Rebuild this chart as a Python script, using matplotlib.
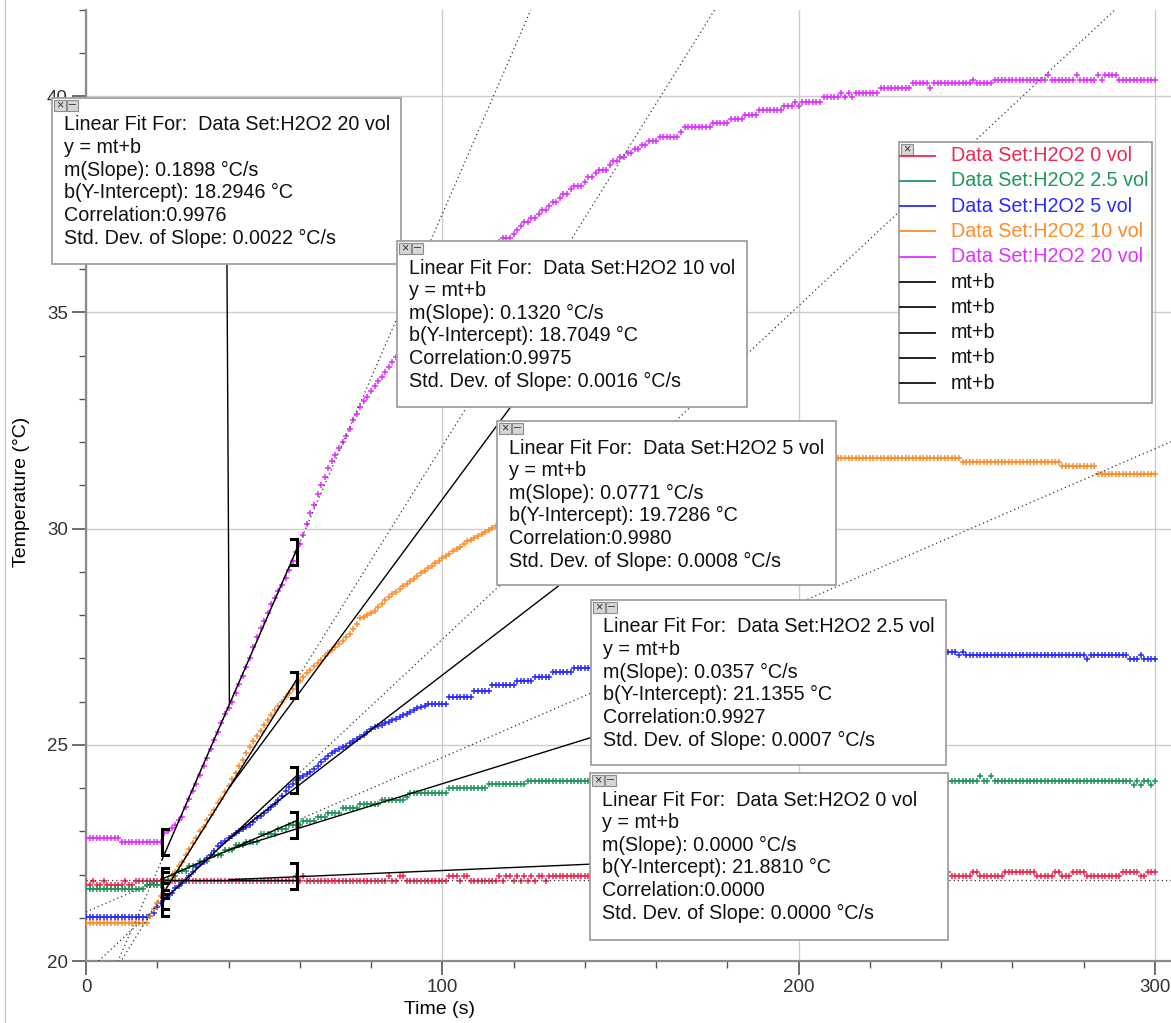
import numpy as np
import matplotlib
matplotlib.use('Agg')
import matplotlib.pyplot as plt
from matplotlib.patches import Rectangle
from matplotlib.ticker import MultipleLocator

plt.rcParams['font.family'] = ['Liberation Sans', 'DejaVu Sans']

# ---------------- data (temperature in °C, one reading per second) ----------------
time_s = np.arange(301)

temp_0vol = ([21.76, 21.76, 21.85, 21.76, 21.76, 21.85, 21.76, 21.76, 21.76, 21.76, 21.76, 21.85, 21.76, 21.76]
             + [21.85] * 45 + [21.96, 21.85, 21.96] + [21.85] * 23
             + [21.96, 21.85, 21.85, 21.96, 21.96] + [21.85] * 12
             + [21.96] * 3 + [21.85] + [21.96] * 2 + [21.85] * 8
             + [21.96, 21.85, 21.96, 21.96, 21.85, 21.96, 21.85, 21.96, 21.85, 21.96, 21.85, 21.96, 21.96, 21.85]
             + [21.96] * 11 + [21.96] * 96
             + [21.96] + [22.05] * 5 + [21.96] * 6 + [22.05] * 2 + [21.96] * 7 + [22.05] * 9
             + [21.96] * 5 + [22.05] * 2 + [21.96] * 3 + [22.05] * 4 + [21.96] * 10 + [22.05] * 5
             + [21.96] * 2 + [22.05] * 3)

temp_2p5vol = ([21.66] * 17 + [21.76] * 5 + [21.87] * 2 + [21.97] * 2 + [22.08] * 3 + [22.2] * 3
               + [22.31] * 3 + [22.45] * 4 + [22.57] * 3 + [22.68] * 3 + [22.75] * 4 + [22.93] * 5
               + [23.05] * 3 + [23.14] * 4 + [23.24] * 4 + [23.33] * 3 + [23.42] * 4 + [23.54] * 5
               + [23.63] * 6 + [23.72] * 7 + [23.8] + [23.88] * 11 + [24.0] * 11 + [24.09] * 11
               + [24.16] * 113
               + [24.16] * 4 + [24.28] + [24.16] * 9 + [24.28] + [24.16] * 2 + [24.28] + [24.16] * 39
               + [24.06, 24.16, 24.06, 24.16, 24.16, 24.06, 24.16])

temp_5vol = ([21.02] * 18
             + [21.05, 21.1, 21.25, 21.35, 21.43, 21.5, 21.58, 21.68, 21.74, 21.8,
                21.88, 21.96, 22.05, 22.17, 22.24, 22.3, 22.38, 22.45, 22.55, 22.65,
                22.72, 22.78, 22.85, 22.9, 22.95, 23.0, 23.05, 23.1, 23.15, 23.22,
                23.3, 23.36, 23.42, 23.5, 23.56, 23.64, 23.72, 23.82, 23.92, 24.02,
                24.1, 24.18]
             + [24.22, 24.27, 24.32, 24.38, 24.45, 24.52, 24.6, 24.68, 24.74, 24.8,
                24.85, 24.9, 24.94, 24.98, 25.03, 25.08, 25.13, 25.18, 25.23, 25.3,
                25.36, 25.4, 25.43, 25.46, 25.5, 25.53, 25.57, 25.6, 25.64, 25.68,
                25.72, 25.76, 25.8, 25.84, 25.87, 25.9]
             + [25.94] * 6 + [26.1] * 7 + [26.24] * 5 + [26.38] * 7 + [26.48] * 5 + [26.57] * 5
             + [26.68] * 6 + [26.77] * 6
             + [26.86] * 18 + [26.96] * 40 + [27.07] * 40
             + [27.15] * 4 + [27.07, 27.15] + [27.07] * 34 + [26.98] + [27.07] * 11 + [26.98] * 3
             + [27.07] + [26.98] * 4)

temp_10vol = ([20.89] * 18
              + [21.05, 21.2, 21.35, 21.5, 21.65, 21.8, 21.9, 22.05, 22.2, 22.3,
                 22.45, 22.6, 22.72, 22.85, 23.0, 23.1, 23.25, 23.38, 23.5, 23.65,
                 23.75, 23.9, 24.05, 24.2, 24.35, 24.5, 24.65, 24.8, 24.95, 25.08,
                 25.2, 25.32, 25.45, 25.57, 25.68, 25.8, 25.9, 26.0, 26.1, 26.2,
                 26.3, 26.38]
              + [26.48, 26.56, 26.65, 26.73, 26.81, 26.89, 26.97, 27.05, 27.13, 27.2,
                 27.27, 27.34, 27.41, 27.48, 27.55, 27.68, 27.8, 27.92, 27.96, 28.0,
                 28.05, 28.1, 28.18, 28.26, 28.34, 28.42, 28.48, 28.54, 28.6, 28.66,
                 28.72, 28.78, 28.84, 28.9, 28.96, 29.02, 29.08, 29.14, 29.2, 29.26,
                 29.31, 29.36, 29.42, 29.47, 29.53, 29.58, 29.64, 29.7, 29.74, 29.78,
                 29.82, 29.87, 29.92, 29.97, 30.02, 30.06]
              + [30.15] * 3 + [30.25] * 3 + [30.35] * 3 + [30.45] * 4 + [30.55] * 4 + [30.65] * 5
              + [30.75] * 5 + [30.85] * 6 + [30.95] * 7 + [31.05] * 8 + [31.15] * 9 + [31.25] * 10
              + [31.35] * 11 + [31.45] * 12 + [31.55] * 5
              + [31.63] * 35 + [31.54] * 28 + [31.45] * 10 + [31.27] * 17)

temp_20vol = ([22.85] * 10 + [22.76] * 12
              + [22.96, 23.0, 23.07, 23.15, 23.25, 23.34, 23.55, 23.75, 23.92, 24.1,
                 24.3, 24.5, 24.7, 24.9, 25.1, 25.3, 25.5, 25.7, 25.85, 26.0,
                 26.2, 26.4, 26.6, 26.8, 27.0, 27.25, 27.5, 27.7, 27.85, 28.05,
                 28.25, 28.4, 28.55, 28.7, 28.85, 29.05, 29.25, 29.45, 29.65, 29.85,
                 30.1, 30.35, 30.55, 30.8, 31.0, 31.2, 31.4, 31.55, 31.7, 31.85,
                 32.0, 32.15, 32.3, 32.5, 32.65, 32.8, 32.95, 33.05, 33.17, 33.3,
                 33.4, 33.5, 33.62, 33.74, 33.85, 33.96, 34.07, 34.18, 34.28, 34.38,
                 34.48, 34.58, 34.68, 34.77, 34.86, 34.95, 35.04, 35.13, 35.22, 35.3,
                 35.38, 35.46, 35.55, 35.63, 35.71, 35.79, 35.87, 35.95, 36.1, 36.18,
                 36.26, 36.35, 36.44, 36.53, 36.62]
              + [36.72] * 3 + [36.82, 36.9, 37.0] + [37.09] * 2 + [37.18] * 2 + [37.27] + [37.36] * 2
              + [37.46] + [37.55] * 2 + [37.65] + [37.74] * 2 + [37.84] + [37.93] * 3 + [38.02]
              + [38.12] * 2 + [38.21] + [38.3] * 3 + [38.4] + [38.49] * 2 + [38.58] * 2 + [38.68] * 2
              + [38.77] * 2 + [38.86] * 2 + [38.96] * 3 + [39.05] * 6 + [39.17] + [39.28] * 8
              + [39.37] * 5 + [39.47] * 4 + [39.56] * 4 + [39.67] * 7 + [39.76] * 3 + [39.87, 39.76]
              + [39.87] * 6 + [39.98] * 5 + [40.07, 39.98, 40.07, 39.98] + [40.07] * 7 + [40.18] * 9
              + [40.29] * 5 + [40.18] + [40.29] * 11 + [40.38] + [40.29] * 5 + [40.38] * 15 + [40.48]
              + [40.38] * 7 + [40.48] + [40.38] * 5 + [40.48, 40.38] + [40.48] * 4 + [40.38] * 11)

series_names = ['H2O2 0 vol', 'H2O2 2.5 vol', 'H2O2 5 vol', 'H2O2 10 vol', 'H2O2 20 vol']
series_temps = [temp_0vol, temp_2p5vol, temp_5vol, temp_10vol, temp_20vol]
series_colors = ['#F0284F', '#1E965A', '#2A2AFF', '#FF8C28', '#E030FF']

# linear fits (range 21.3 s .. 59.2 s)
fit_slopes = [0.0000, 0.0357, 0.0771, 0.1320, 0.1898]
fit_intercepts = [21.8810, 21.1355, 19.7286, 18.7049, 18.2946]
fit_correlations = [0.0000, 0.9927, 0.9980, 0.9975, 0.9976]
fit_slope_sd = [0.0000, 0.0007, 0.0008, 0.0016, 0.0022]
fit_range = (21.3, 59.2)

for s in series_temps:
    assert len(s) == 301, len(s)

# ---------------- figure ----------------
W, H = 1171, 1023
fig = plt.figure(figsize=(W / 100, H / 100), dpi=100)
ax = fig.add_axes([86 / W, (H - 961) / H, (W - 86) / W, (961 - 9.5) / H])
ax.set_xlim(0, 304.5)
ax.set_ylim(20, 42)

ax.xaxis.set_major_locator(MultipleLocator(100))
ax.xaxis.set_minor_locator(MultipleLocator(20))
ax.yaxis.set_major_locator(MultipleLocator(5))
ax.yaxis.set_minor_locator(MultipleLocator(1))
ax.grid(which='major', color='#cccccc', lw=1.0)
ax.set_axisbelow(True)
for side in ['top', 'right']:
    ax.spines[side].set_visible(False)
for side in ['left', 'bottom']:
    ax.spines[side].set_color('#8a8a8a')
    ax.spines[side].set_linewidth(1.6)
ax.tick_params(which='major', length=10, width=1.2, color='#555555', labelsize=13.5,
               labelcolor='#333333', pad=3)
ax.tick_params(which='minor', length=5, width=1.0, color='#555555')

# data points
for temps, col in zip(series_temps, series_colors):
    ax.plot(time_s, temps, ls='none', marker='+', ms=4.2, mew=1.1, color=col, zorder=3)

# fit lines (solid over fit range, dotted extension)
tx = np.array([0, 304.5])
tf = np.array(fit_range)
for m, b in zip(fit_slopes, fit_intercepts):
    ax.plot(tx, m * tx + b, ls=(0, (1, 2.4)), color='#333333', lw=0.9, zorder=4)
    ax.plot(tf, m * tf + b, color='black', lw=1.0, zorder=4)

# range brackets
for temps in series_temps:
    y0 = temps[21]
    y1 = temps[59]
    x0, x1 = fit_range
    ax.plot([x0 + 1.6, x0, x0, x0 + 1.6], [y0 - 0.3, y0 - 0.3, y0 + 0.3, y0 + 0.3],
            color='black', lw=2.2, zorder=5, solid_joinstyle='miter')
    ax.plot([x1 - 1.6, x1, x1, x1 - 1.6], [y1 - 0.3, y1 - 0.3, y1 + 0.3, y1 + 0.3],
            color='black', lw=2.2, zorder=5, solid_joinstyle='miter')

fig.text(440 / W, 1 - 1010 / H, 'Time (s)', ha='center', va='center', fontsize=14)
fig.text(22 / W, 1 - 492 / H, 'Temperature (°C)', ha='center', va='center', fontsize=14,
         rotation=90)

# ---------------- overlay (annotation boxes, legend) ----------------
ov = fig.add_axes([0, 0, 1, 1])
ov.set_xlim(0, W)
ov.set_ylim(H, 0)
ov.axis('off')
ov.set_zorder(5)
ov.plot([5, 5], [0, H], color='#c8c8c8', lw=1.0)

fig.canvas.draw()


def data_to_px(t, temp):
    dx, dy = ax.transData.transform((t, temp))
    return dx, H - dy


def buttons(x0, y0, z, minus=True):
    ov.add_patch(Rectangle((x0 + 2, y0 + 2), 12, 11, fc='#d6d6d6', ec='#8c8c8c', lw=0.8, zorder=z))
    ov.text(x0 + 8, y0 + 7.5, '×', fontsize=9, ha='center', va='center', color='#333333', zorder=z + 0.1)
    if minus:
        ov.add_patch(Rectangle((x0 + 15, y0 + 2), 11, 11, fc='#d6d6d6', ec='#8c8c8c', lw=0.8, zorder=z))
        ov.text(x0 + 20.5, y0 + 7, '–', fontsize=9, ha='center', va='center', color='#333333', zorder=z + 0.1)


# box rectangles in pixels (x0, y0, x1, y1), one per fit, same order as series
box_rects = [(590, 773, 948, 940), (591, 600, 946, 765), (497, 421, 836, 585),
             (397, 241, 747, 407), (52, 98, 401, 264)]
draw_order = [4, 3, 2, 1, 0]
tmid = 0.5 * (fit_range[0] + fit_range[1])
for i in range(5):
    x0, y0, x1, y1 = box_rects[i]
    px, py = data_to_px(tmid, fit_slopes[i] * tmid + fit_intercepts[i])
    ov.plot([px, 0.5 * (x0 + x1)], [py, 0.5 * (y0 + y1)], color='black', lw=1.0, zorder=1)

for k, i in enumerate(draw_order):
    x0, y0, x1, y1 = box_rects[i]
    z = 10 + 3 * k
    ov.add_patch(Rectangle((x0, y0), x1 - x0, y1 - y0, fc='white', ec='#a0a0a0', lw=1.3, zorder=z))
    buttons(x0, y0, z + 1)
    lines = [f'Linear Fit For:  Data Set:{series_names[i]}',
             'y = mt+b',
             f'm(Slope): {fit_slopes[i]:.4f} °C/s',
             f'b(Y-Intercept): {fit_intercepts[i]:.4f} °C',
             f'Correlation:{fit_correlations[i]:.4f}',
             f'Std. Dev. of Slope: {fit_slope_sd[i]:.4f} °C/s']
    for j, s in enumerate(lines):
        ov.text(x0 + 12, y0 + 27 + j * 22.6, s, fontsize=14.2, ha='left', va='center',
                color='#111111', zorder=z + 2)

# legend
lx0, ly0, lx1, ly1 = 899, 142, 1152, 403
ov.add_patch(Rectangle((lx0, ly0), lx1 - lx0, ly1 - ly0, fc='white', ec='#a0a0a0', lw=1.3, zorder=30))
buttons(lx0, ly0, 31, minus=False)
legend_labels = ['Data Set:' + n for n in series_names] + ['mt+b'] * 5
legend_colors = series_colors + ['#111111'] * 5
for k, (lab, col) in enumerate(zip(legend_labels, legend_colors)):
    yy = 155.5 + k * 25.3
    ov.plot([900, 935], [yy, yy], color=col, lw=1.3, zorder=32)
    ov.text(951, yy, lab, fontsize=14.2, color=col, ha='left', va='center', zorder=32)

fig.savefig('out.png', dpi=100)
